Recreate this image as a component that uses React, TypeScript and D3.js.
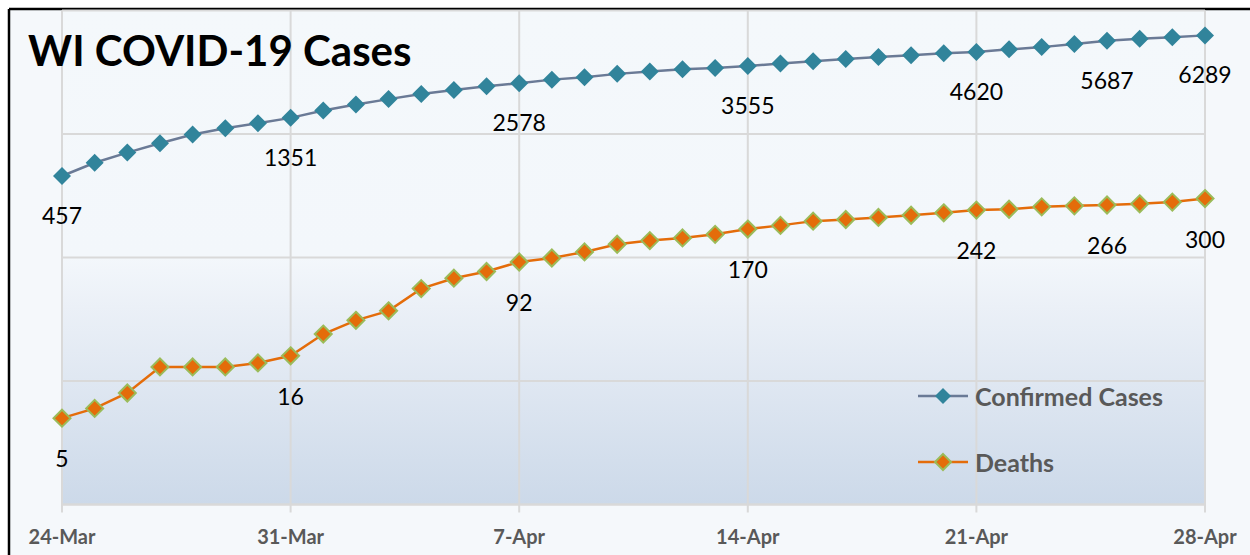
import React from "react";
import * as d3 from "d3";

const dates = [
  "2020-03-24","2020-03-25","2020-03-26","2020-03-27","2020-03-28","2020-03-29","2020-03-30",
  "2020-03-31","2020-04-01","2020-04-02","2020-04-03","2020-04-04","2020-04-05","2020-04-06",
  "2020-04-07","2020-04-08","2020-04-09","2020-04-10","2020-04-11","2020-04-12","2020-04-13",
  "2020-04-14","2020-04-15","2020-04-16","2020-04-17","2020-04-18","2020-04-19","2020-04-20",
  "2020-04-21","2020-04-22","2020-04-23","2020-04-24","2020-04-25","2020-04-26","2020-04-27",
  "2020-04-28",
];

const confirmedCases = [
  457, 585, 707, 842, 989, 1112, 1221,
  1351, 1550, 1730, 1916, 2112, 2267, 2440,
  2578, 2756, 2885, 3068, 3213, 3341, 3428,
  3555, 3721, 3875, 4053, 4199, 4346, 4499,
  4620, 4845, 5052, 5356, 5687, 5911, 6081,
  6289,
];

const deaths = [
  5, 6, 8, 13, 13, 13, 14,
  16, 24, 31, 37, 56, 68, 77,
  92, 99, 111, 128, 137, 144, 154,
  170, 182, 197, 203, 211, 220, 230,
  242, 246, 257, 262, 266, 272, 281,
  300,
];

const labeledDays = ["2020-03-24", "2020-03-31", "2020-04-07", "2020-04-14", "2020-04-21", "2020-04-25", "2020-04-28"];
const tickDays = ["2020-03-24", "2020-03-31", "2020-04-07", "2020-04-14", "2020-04-21", "2020-04-28"];
const yGridValues = [10, 100, 1000, 10000];

const title = "WI COVID-19 Cases";
const seriesNames = ["Confirmed Cases", "Deaths"];

const W = 1250;
const H = 555;
const PL = 62, PR = 1205, PT = 10.5, PB = 504.5;

const parse = d3.utcParse("%Y-%m-%d");
const fmt = d3.utcFormat("%-d-%b");
const FONT = "Lato, 'Open Sans', sans-serif";

function Diamond({ x, y, fill, stroke, size }: { x: number; y: number; fill: string; stroke?: string; size: number }) {
  const r = size / 2;
  return (
    <path
      d={`M${x},${y - r}L${x + r},${y}L${x},${y + r}L${x - r},${y}Z`}
      fill={fill}
      stroke={stroke || "none"}
      strokeWidth={stroke ? 2 : 0}
    />
  );
}

export default function App() {
  const x = d3.scaleUtc()
    .domain([parse(dates[0])!, parse(dates[dates.length - 1])!])
    .range([PL, PR]);
  const y = d3.scaleLog().domain([1, 10000]).range([PB, PT]);

  const caseData = dates.map((d, i) => ({ d: parse(d)!, v: confirmedCases[i], key: d }));
  const deathData = dates.map((d, i) => ({ d: parse(d)!, v: deaths[i], key: d }));

  const line = d3.line<{ d: Date; v: number }>().x((p) => x(p.d)).y((p) => y(p.v));

  const caseColor = "#31849B";
  const caseLine = "#6A7A96";
  const deathColor = "#E46C0A";
  const deathStroke = "#9BBB59";

  return (
    <svg width={W} height={H} style={{ position: "absolute", left: 0, top: 0, display: "block" }}>
      <defs>
        <linearGradient id="plotGrad" x1="0" y1="0" x2="0" y2="1">
          <stop offset="0" stopColor="#F4F8FB" />
          <stop offset="0.5" stopColor="#F3F7FB" />
          <stop offset="0.6" stopColor="#EBF0F7" />
          <stop offset="1" stopColor="#CCD9E9" />
        </linearGradient>
      </defs>
      <rect x={0} y={0} width={W} height={H} fill="#FFFFFF" />
      <rect x={9} y={9} width={W} height={H} fill="#F5F8FB" />
      <line x1={9} y1={9} x2={W} y2={9} stroke="#000" strokeWidth={2.5} />
      <line x1={9} y1={9} x2={9} y2={H} stroke="#000" strokeWidth={2.5} />

      <rect x={PL} y={PT} width={PR - PL} height={PB - PT} fill="url(#plotGrad)" />

      {yGridValues.map((v) => (
        <line key={v} x1={PL} x2={PR} y1={y(v)} y2={y(v)} stroke="#D9D9D9" strokeWidth={2} />
      ))}
      <line x1={PL} x2={PR} y1={PB} y2={PB} stroke="#D9D9D9" strokeWidth={2.5} />
      {tickDays.map((t) => (
        <line key={t} x1={x(parse(t)!)} x2={x(parse(t)!)} y1={PT} y2={PB + 8} stroke="#D9D9D9" strokeWidth={2} />
      ))}
      {tickDays.map((t) => (
        <text
          key={"l" + t}
          x={x(parse(t)!)}
          y={536}
          textAnchor="middle"
          dominantBaseline="central"
          fontFamily={FONT}
          fontWeight={700}
          fontSize={20}
          fill="#595959"
        >
          {fmt(parse(t)!)}
        </text>
      ))}

      <path d={line(caseData) || ""} fill="none" stroke={caseLine} strokeWidth={2.5} />
      {caseData.map((p) => (
        <Diamond key={p.key} x={x(p.d)} y={y(p.v)} fill={caseColor} size={18} />
      ))}

      <path d={line(deathData) || ""} fill="none" stroke={deathColor} strokeWidth={2.5} />
      {deathData.map((p) => (
        <Diamond key={p.key} x={x(p.d)} y={y(p.v)} fill={deathColor} stroke={deathStroke} size={17} />
      ))}

      {caseData.filter((p) => labeledDays.includes(p.key)).map((p) => (
        <text key={"cl" + p.key} x={x(p.d)} y={y(p.v) + 39} textAnchor="middle" dominantBaseline="central"
          fontFamily={FONT} fontSize={23} fill="#000">
          {p.v}
        </text>
      ))}
      {deathData.filter((p) => labeledDays.includes(p.key)).map((p) => (
        <text key={"dl" + p.key} x={x(p.d)} y={y(p.v) + 40} textAnchor="middle" dominantBaseline="central"
          fontFamily={FONT} fontSize={23} fill="#000">
          {p.v}
        </text>
      ))}

      <text x={28} y={66} fontFamily={FONT} fontWeight={700} fontSize={42} fill="#000">
        {title}
      </text>

      {/* legend */}
      <line x1={918} x2={968} y1={396} y2={396} stroke={caseLine} strokeWidth={2.5} />
      <Diamond x={943} y={396} fill={caseColor} size={16} />
      <text x={975} y={396} dominantBaseline="central" fontFamily={FONT} fontWeight={700} fontSize={25} fill="#595959">
        {seriesNames[0]}
      </text>
      <line x1={918} x2={968} y1={462} y2={462} stroke={deathColor} strokeWidth={2.5} />
      <Diamond x={943} y={462} fill={deathColor} stroke={deathStroke} size={16} />
      <text x={975} y={462} dominantBaseline="central" fontFamily={FONT} fontWeight={700} fontSize={25} fill="#595959">
        {seriesNames[1]}
      </text>
    </svg>
  );
}
